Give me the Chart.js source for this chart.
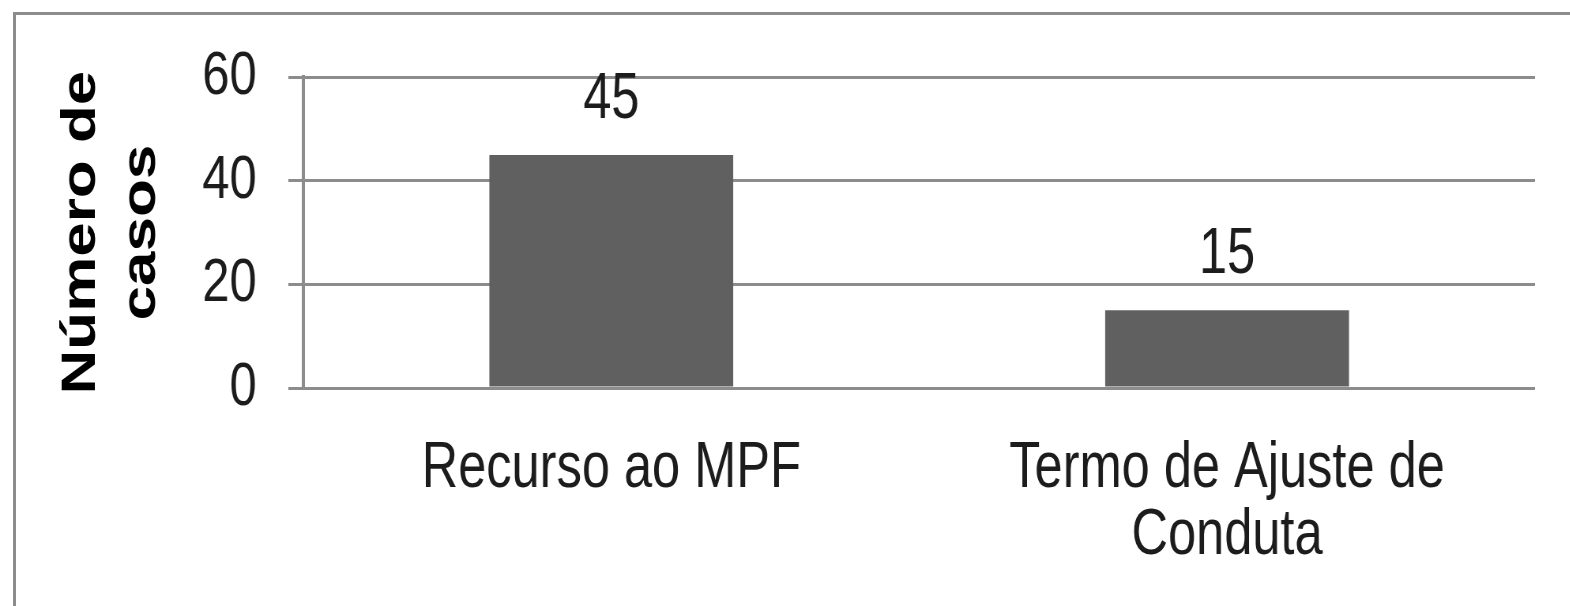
<!DOCTYPE html>
<html lang="pt">
<head>
    <meta charset="UTF-8">
    <title>Número de casos</title>
    <script src="https://cdn.jsdelivr.net/npm/chart.js"></script>
    <style>
        body {
            margin: 0;
            background-color: #fff;
            overflow: hidden;
        }
        .frame {
            position: absolute;
            left: 13px;
            top: 12px;
            width: 1600px;
            height: 640px;
            border: 3px solid #8c8c8c;
        }
        /* the original figure is squeezed horizontally, so the canvas is drawn
           wider and narrowed back to 1570px (narrow glyphs, tall rotated title) */
        #casosChart {
            position: absolute;
            left: 0;
            top: 0;
            transform: scaleX(0.79);
            transform-origin: 0 0;
        }
    </style>
</head>
<body>

<div class="frame"></div>
<canvas id="casosChart" width="1987" height="606"></canvas>

<script>
    // values
    const categories = [['Recurso ao MPF'], ['Termo de Ajuste de', 'Conduta']];
    const casos = [45, 15];
    const yTicks = [0, 20, 40, 60];

    const sans = "'Liberation Sans', Arial, sans-serif";
    const gridGray = '#8c8c8c';
    const textColor = '#1c1c1c';

    // value printed above each bar
    const barLabels = {
        id: 'barLabels',
        afterDatasetsDraw(chart) {
            const ctx = chart.ctx;
            const meta = chart.getDatasetMeta(0);
            ctx.save();
            ctx.font = '64px ' + sans;
            ctx.fillStyle = textColor;
            ctx.textAlign = 'center';
            ctx.textBaseline = 'alphabetic';
            meta.data.forEach(function(bar, i) {
                ctx.fillText(casos[i], bar.x, bar.y - 37);
            });
            ctx.restore();
        }
    };

    new Chart(document.getElementById('casosChart'), {
        type: 'bar',
        data: {
            labels: categories,
            datasets: [{
                data: casos,
                backgroundColor: '#606060',
                barPercentage: 0.396,
                categoryPercentage: 1
            }]
        },
        options: {
            responsive: false,
            animation: false,
            layout: {
                padding: { top: 72, right: 44, bottom: 0, left: 0 }
            },
            scales: {
                x: {
                    grid: { display: false },
                    border: { display: false },
                    ticks: {
                        color: textColor,
                        padding: 39,
                        maxRotation: 0,
                        font: { family: sans, size: 64, lineHeight: 1.06 }
                    },
                    afterFit: function(scale) { scale.height = 218; }
                },
                y: {
                    min: yTicks[0],
                    max: yTicks[yTicks.length - 1],
                    grid: {
                        color: gridGray,
                        lineWidth: 3,
                        tickLength: 19
                    },
                    border: { color: gridGray, width: 4 },
                    ticks: {
                        stepSize: yTicks[1] - yTicks[0],
                        color: textColor,
                        padding: 40,
                        font: { family: sans, size: 62 }
                    },
                    title: {
                        display: true,
                        text: ['Número de', 'casos'],
                        color: '#000',
                        padding: { top: 64, bottom: 0 },
                        font: { family: sans, size: 62, weight: 'bold', lineHeight: 1.24 }
                    },
                    afterFit: function(scale) { scale.width = 384; }
                }
            },
            plugins: {
                legend: { display: false },
                tooltip: { enabled: false }
            }
        },
        plugins: [barLabels]
    });
</script>

</body>
</html>
